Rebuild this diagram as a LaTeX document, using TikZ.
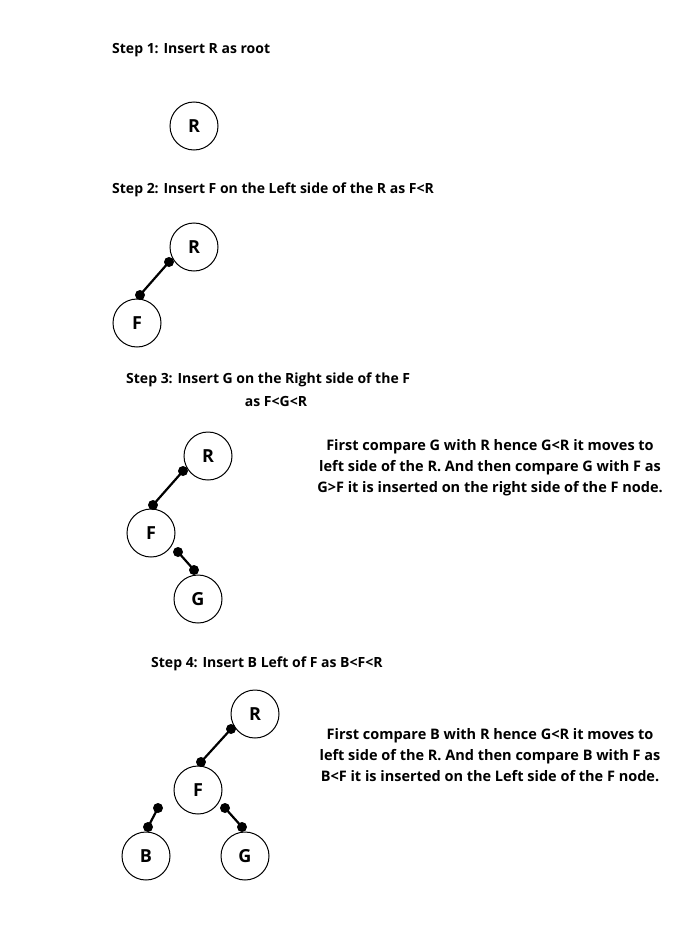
\documentclass[tikz,border=0pt]{standalone}
\usepackage{fontspec}
\setmainfont{Open Sans}
\begin{document}
\begin{tikzpicture}[x=1pt,y=-1pt,
  nd/.style={circle,draw,line width=1pt,minimum size=48pt,inner sep=0pt,font=\fontsize{18}{20}\selectfont\bfseries},
  hd/.style={anchor=west,font=\fontsize{14}{17}\selectfont\bfseries,inner sep=0pt},
  para/.style={align=center,font=\fontsize{14.5}{21}\selectfont\bfseries,inner sep=0pt},
  conn/.style={line width=2.2pt},
  dot/.style={circle,fill=black,minimum size=10pt,inner sep=0pt}]
\useasboundingbox (0,0) rectangle (679,950);
% Step 1
\node[hd] (h1) at (112,50) {Step 1: Insert R as root};
\node[nd] (r1) at (194,126) {R};
% Step 2
\node[hd] (h2) at (112,190) {Step 2: Insert F on the Left side of the R as F<R};
\node[nd] (r2) at (194,247) {R};
\node[nd] (f2) at (137,323) {F};
\coordinate (a2) at (169,262); \coordinate (b2) at (140,295);
\draw[conn] (a2) -- (b2);
\node[dot] at (a2) {}; \node[dot] at (b2) {};
% Step 3
\node[hd] (h3) at (126,380) {Step 3: Insert G on the Right side of the F};
\node[hd,anchor=center] (h3b) at (276,401) {as F<G<R};
\node[nd] (r3) at (208,456) {R};
\node[nd] (f3) at (151,533) {F};
\node[nd] (g3) at (198,599) {G};
\coordinate (a3) at (183,471); \coordinate (b3) at (153,505);
\coordinate (c3) at (178,552); \coordinate (d3) at (194,570);
\draw[conn] (a3) -- (b3); \draw[conn] (c3) -- (d3);
\foreach \p in {a3,b3,c3,d3} \node[dot] at (\p) {};
\node[para] (p3) at (490,468) {First compare G with R hence G<R it moves to\\left side of the R. And then compare G with F as\\G>F it is inserted on the right side of the F node.};
% Step 4
\node[hd] (h4) at (151,664) {Step 4: Insert B Left of F as B<F<R};
\node[nd] (r4) at (255,714) {R};
\node[nd] (f4) at (198,790) {F};
\node[nd] (b4) at (146,856) {B};
\node[nd] (g4) at (245,856) {G};
\coordinate (a4) at (231,729); \coordinate (e4) at (201,762);
\coordinate (c4) at (158,808); \coordinate (d4) at (148,827);
\coordinate (x4) at (225,808); \coordinate (y4) at (242,827);
\draw[conn] (a4) -- (e4); \draw[conn] (c4) -- (d4); \draw[conn] (x4) -- (y4);
\foreach \p in {a4,e4,c4,d4,x4,y4} \node[dot] at (\p) {};
\node[para] (p4) at (490,755) {First compare B with R hence G<R it moves to\\left side of the R. And then compare B with F as\\B<F it is inserted on the Left side of the F node.};
\end{tikzpicture}
\end{document}
